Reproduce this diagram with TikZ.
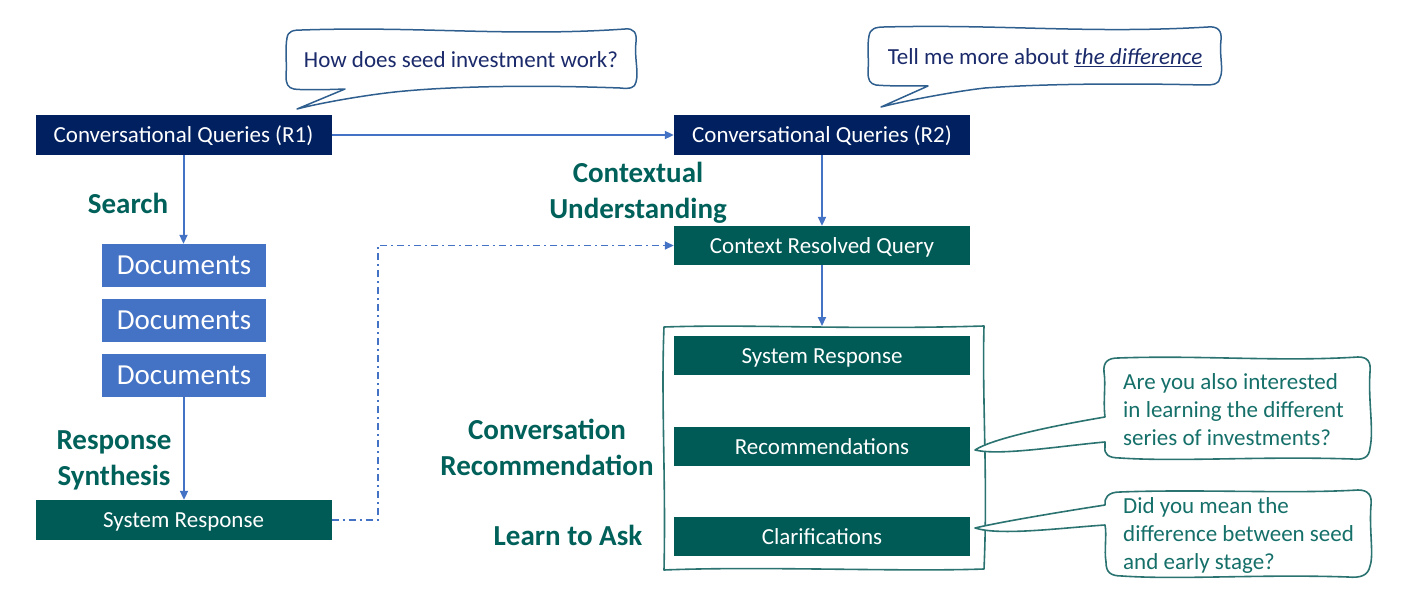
\documentclass[tikz,border=0pt]{standalone}
\usepackage{fontspec}
\setmainfont{Carlito}
\usetikzlibrary{arrows.meta}
\definecolor{navy}{HTML}{002060}
\definecolor{cblue}{HTML}{4472C4}
\definecolor{tealbox}{HTML}{005A55}
\definecolor{tealtxt}{HTML}{00605A}
\definecolor{bubblue}{HTML}{2F5F8F}
\definecolor{bubteal}{HTML}{2A7370}
\definecolor{bubtxt}{HTML}{1B2A6B}
\definecolor{bubtealtxt}{HTML}{16706A}
\begin{document}
\begin{tikzpicture}[x=1pt,y=-1pt,
  box/.style={inner sep=0pt, text=white, font=\fontsize{23}{28}\selectfont, minimum height=40pt, minimum width=296pt, text height=17pt, text depth=2pt},
  navybox/.style={box, fill=navy},
  greenbox/.style={box, fill=tealbox, minimum height=39pt},
  docbox/.style={box, fill=cblue, minimum width=164pt, minimum height=43pt, font=\fontsize{29}{34}\selectfont, text height=21pt, text depth=2.5pt},
  lbl/.style={text=tealtxt, font=\fontsize{29}{36}\selectfont\bfseries, align=center, inner sep=0pt},
  flow/.style={draw=cblue, line width=2pt, -{Triangle[length=9pt,width=8pt]}},
  dashflow/.style={draw=cblue, line width=1.6pt, dash pattern=on 7pt off 4pt on 2pt off 4pt, -{Triangle[length=9pt,width=8pt]}},
  sketchblue/.style={draw=bubblue, line width=1.5pt, line join=round, fill=white},
  sketchteal/.style={draw=bubteal, line width=1.6pt, line join=round, fill=white},
  bubtext/.style={inner sep=0pt, font=\fontsize{23}{28}\selectfont},
]
\useasboundingbox (0,0) rectangle (1401,594);

% speech bubble 1
\draw[sketchblue] (345,89) .. controls (320,90) and (300,90) .. (294,89)
  .. controls (288,88) and (286,84) .. (286,76)
  .. controls (287,62) and (285,48) .. (287,38)
  .. controls (288,31) and (293,30) .. (302,30)
  .. controls (420,26) and (510,37) .. (625,29)
  .. controls (634,28) and (637,33) .. (636,42)
  .. controls (634,56) and (639,72) .. (636,82)
  .. controls (635,88) and (630,89) .. (620,88)
  .. controls (540,85) and (460,86) .. (405,91)
  .. controls (370,94) and (320,103) .. (297,109)
  -- cycle;
\node[bubtext, text=bubtxt] (q1) at (461,60) {How does seed investment work?};

% speech bubble 2
\draw[sketchblue] (928,86) .. controls (905,86) and (885,86) .. (876,85)
  .. controls (870,84) and (868,80) .. (868,72)
  .. controls (869,58) and (867,45) .. (869,36)
  .. controls (870,29) and (875,27) .. (884,27)
  .. controls (1000,24) and (1090,34) .. (1208,27)
  .. controls (1218,26) and (1222,31) .. (1221,40)
  .. controls (1219,55) and (1224,70) .. (1220,78)
  .. controls (1219,84) and (1214,85) .. (1204,85)
  .. controls (1120,83) and (1040,84) .. (985,88)
  .. controls (950,92) and (900,102) .. (881,107)
  -- cycle;
\node[bubtext, text=bubtxt] (q2) at (1045,58) {Tell me more about \underline{\textit{the difference}}};

% main boxes
\node[navybox] (r1) at (183.5,135) {Conversational Queries (R1)};
\node[navybox] (r2) at (822,135) {Conversational Queries (R2)};
\node[docbox] (d1) at (184,265.5) {Documents};
\node[docbox] (d2) at (184,320.5) {Documents};
\node[docbox] (d3) at (184,375.5) {Documents};
\node[greenbox, minimum height=40pt] (sr1) at (183.5,520) {System Response};
\node[greenbox] (crq) at (822,245.5) {Context Resolved Query};

% outer sketch frame
\draw[draw=bubteal, line width=1.6pt, line join=round]
  (664,327) .. controls (750,324) and (850,330) .. (984,326)
  .. controls (982,400) and (988,480) .. (984,569)
  .. controls (900,572) and (760,566) .. (664,570)
  .. controls (666,480) and (661,400) .. (664,327) -- cycle;
\coordinate (frametop) at (822,326);

\node[greenbox] (sr2) at (822,355.5) {System Response};
\node[greenbox] (rec) at (822,446.5) {Recommendations};
\node[greenbox] (clar) at (822,536.5) {Clarifications};

% labels
\node[lbl] (search) at (128,203) {Search};
\node[lbl] (synth) at (114,460) {Response\\Synthesis};
\node[lbl] (ctx) at (638,193) {Contextual\\Understanding};
\node[lbl] (convrec) at (547,447) {Conversation\\Recommendation};
\node[lbl] (ask) at (568,535) {Learn to Ask};

% connectors
\draw[flow] (r1.east) -- (r2.west);
\draw[flow] (r1.south) -- (r1.south |- d1.north);
\draw[flow] (d3.south) -- (d3.south |- sr1.north);
\draw[flow] (r2.south) -- (crq.north);
\draw[flow] (crq.south) -- (frametop);
\draw[dashflow] (sr1.east) -- ++(46,0) |- (crq.west);

% callout bubble 3
\draw[sketchteal] (1105,417) .. controls (1103,400) and (1106,385) .. (1104,372)
  .. controls (1103,362) and (1108,358) .. (1118,358)
  .. controls (1200,355) and (1280,362) .. (1358,357)
  .. controls (1368,357) and (1371,362) .. (1370,372)
  .. controls (1368,400) and (1374,430) .. (1370,448)
  .. controls (1369,458) and (1363,460) .. (1352,459)
  .. controls (1260,456) and (1180,462) .. (1120,458)
  .. controls (1108,458) and (1104,454) .. (1105,447)
  -- (1105,442)
  .. controls (1060,446) and (1000,456) .. (975,450)
  .. controls (990,440) and (1040,428) .. (1105,417) -- cycle;
\node[bubtext, text=bubtealtxt, anchor=west, align=left] (b3) at (1123,410)
  {Are you also interested\\in learning the different\\series of investments?};

% callout bubble 4
\draw[sketchteal] (1105,505) .. controls (1104,498) and (1108,492) .. (1120,492)
  .. controls (1200,489) and (1290,494) .. (1358,490)
  .. controls (1369,490) and (1372,496) .. (1371,505)
  .. controls (1369,530) and (1374,555) .. (1370,566)
  .. controls (1368,576) and (1360,578) .. (1348,577)
  .. controls (1260,574) and (1180,580) .. (1122,576)
  .. controls (1110,576) and (1106,572) .. (1106,562)
  .. controls (1104,550) and (1107,535) .. (1105,525)
  .. controls (1060,528) and (1000,536) .. (975,528)
  .. controls (1000,522) and (1060,512) .. (1105,505) -- cycle;
\node[bubtext, text=bubtealtxt, anchor=west, align=left] (b4) at (1123,535)
  {Did you mean the\\difference between seed\\and early stage?};
\end{tikzpicture}
\end{document}
